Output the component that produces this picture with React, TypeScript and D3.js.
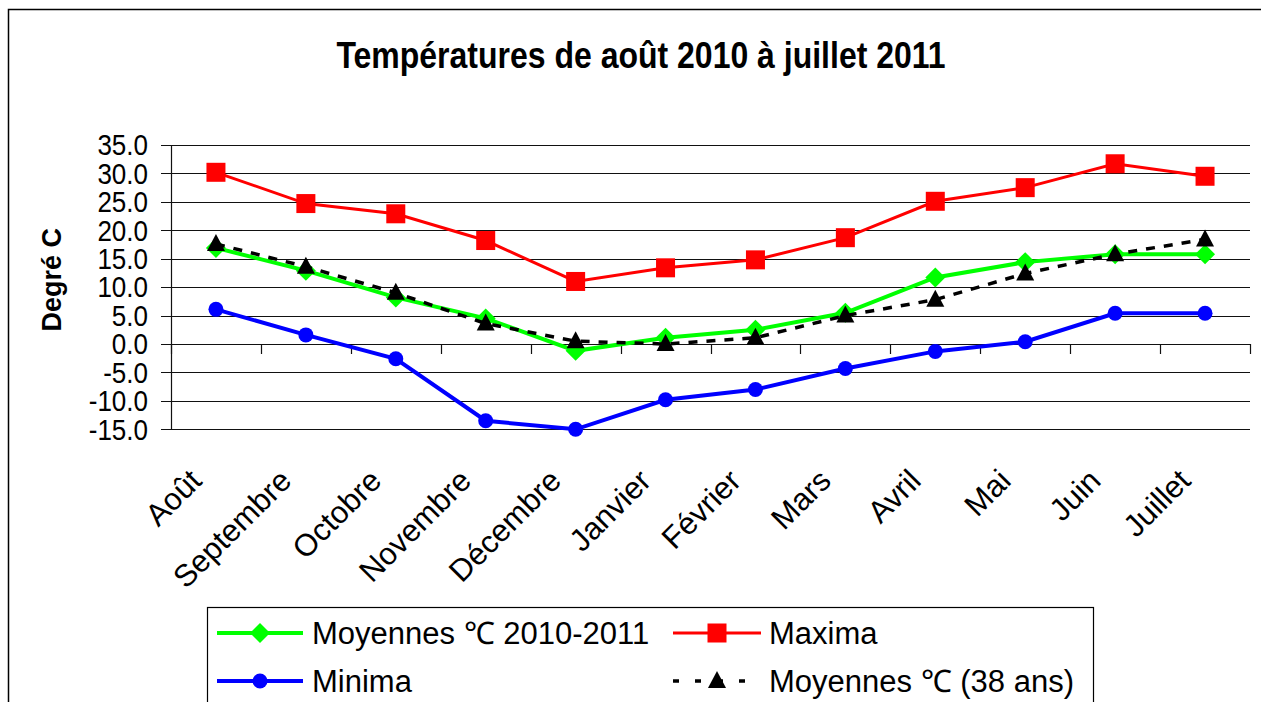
import React, { useEffect, useRef } from 'react';
import * as d3 from 'd3';

const months = ['Août', 'Septembre', 'Octobre', 'Novembre', 'Décembre', 'Janvier', 'Février', 'Mars', 'Avril', 'Mai', 'Juin', 'Juillet'];
const moyennes = [16.9, 12.9, 8.2, 4.5, -1.2, 1.1, 2.5, 5.5, 11.7, 14.4, 15.8, 15.8];
const maxima = [30.2, 24.7, 22.9, 18.2, 11.0, 13.4, 14.8, 18.7, 25.1, 27.5, 31.7, 29.5];
const minima = [6.1, 1.6, -2.6, -13.5, -15.0, -9.8, -8.0, -4.3, -1.3, 0.4, 5.4, 5.4];
const moyennes38 = [17.6, 13.6, 9.0, 3.6, 0.5, 0.0, 1.1, 5.0, 7.8, 12.4, 15.8, 18.4];
const yTicks = [-15, -10, -5, 0, 5, 10, 15, 20, 25, 30, 35];

const W = 1261;
const H = 702;
const FONT = '"Liberation Sans", Arial, sans-serif';

type Series = { name: string; values: number[]; color: string; width: number; dash?: string; marker: 'diamond' | 'square' | 'circle' | 'triangle' };

const series: Series[] = [
  { name: 'Maxima', values: maxima, color: '#ff0000', width: 3, marker: 'square' },
  { name: 'Minima', values: minima, color: '#0000ff', width: 4, marker: 'circle' },
  { name: 'Moyennes \u2103 2010-2011', values: moyennes, color: '#00ff00', width: 4, marker: 'diamond' },
  { name: 'Moyennes \u2103 (38 ans)', values: moyennes38, color: '#000000', width: 3.5, dash: '9,9', marker: 'triangle' },
];

// legend order / placement (col, row)
const legendOrder = [
  { s: 2, col: 0, row: 0 },
  { s: 0, col: 1, row: 0 },
  { s: 1, col: 0, row: 1 },
  { s: 3, col: 1, row: 1 },
];

function drawMarker(g: d3.Selection<SVGGElement, unknown, null, undefined>, kind: string, cx: number, cy: number, color: string) {
  if (kind === 'square') {
    g.append('rect').attr('x', cx - 9.5).attr('y', cy - 9.5).attr('width', 19).attr('height', 19).attr('fill', color);
  } else if (kind === 'circle') {
    g.append('circle').attr('cx', cx).attr('cy', cy).attr('r', 7.5).attr('fill', color);
  } else if (kind === 'diamond') {
    g.append('path').attr('d', `M${cx},${cy - 10}L${cx + 10},${cy}L${cx},${cy + 10}L${cx - 10},${cy}Z`).attr('fill', color);
  } else {
    g.append('path').attr('d', `M${cx},${cy - 10}L${cx + 9},${cy + 7}L${cx - 9},${cy + 7}Z`).attr('fill', color);
  }
}

export default function App() {
  const ref = useRef<SVGSVGElement | null>(null);

  useEffect(() => {
    if (!ref.current) return;
    const svg = d3.select(ref.current);
    svg.selectAll('*').remove();

    const plotLeft = 171;
    const plotRight = 1250;
    const x = d3.scaleBand<string>().domain(months).range([plotLeft, plotRight]);
    const y = d3.scaleLinear().domain([-15, 35]).range([429.3, 145]);

    const root = svg.append('g');

    // outer frame (only top and left visible)
    root.append('rect')
      .attr('x', 8.5).attr('y', 9.5).attr('width', W + 20).attr('height', H + 20)
      .attr('fill', 'none').attr('stroke', '#000').attr('stroke-width', 1.5);

    // title
    root.append('text')
      .attr('transform', 'translate(641,68) scale(1,1.15)')
      .attr('text-anchor', 'middle')
      .style('font-family', FONT).style('font-weight', 'bold').style('font-size', '32px')
      .text('Températures de août 2010 à juillet 2011');

    // gridlines
    root.append('g').selectAll('line').data(yTicks).join('line')
      .attr('x1', plotLeft - 10).attr('x2', plotRight)
      .attr('y1', d => Math.round(y(d)) + 0.5).attr('y2', d => Math.round(y(d)) + 0.5)
      .attr('stroke', '#111').attr('stroke-width', 1.2);

    // y axis line
    root.append('line')
      .attr('x1', plotLeft + 0.5).attr('x2', plotLeft + 0.5)
      .attr('y1', y(35)).attr('y2', y(-15))
      .attr('stroke', '#111').attr('stroke-width', 1.2);

    // category ticks on zero line
    const bounds = d3.range(months.length + 1).map(i => plotLeft + i * x.bandwidth());
    root.append('g').selectAll('line').data(bounds).join('line')
      .attr('x1', d => Math.round(d) + 0.5).attr('x2', d => Math.round(d) + 0.5)
      .attr('y1', y(0)).attr('y2', y(0) + 10)
      .attr('stroke', '#111').attr('stroke-width', 1.2);

    // y tick labels
    root.append('g').selectAll('text').data(yTicks).join('text')
      .attr('transform', d => `translate(148,${y(d)}) scale(1,1.1)`)
      .attr('dy', '0.36em')
      .attr('text-anchor', 'end')
      .style('font-family', FONT).style('font-size', '26px')
      .text(d => d.toFixed(1));

    // y axis title
    root.append('text')
      .attr('transform', `translate(61,${y(11.3)}) rotate(-90)`)
      .attr('text-anchor', 'middle')
      .style('font-family', FONT).style('font-weight', 'bold').style('font-size', '27px')
      .text('Degré C');

    // x labels rotated
    root.append('g').selectAll('text').data(months).join('text')
      .attr('transform', d => `translate(${x(d)! + x.bandwidth() / 2 - 28},${y(-15) + 38}) rotate(-45)`)
      .attr('text-anchor', 'end')
      .attr('dy', '0.7em')
      .style('font-family', FONT).style('font-size', '31px')
      .text(d => d);

    // series
    const line = d3.line<number>()
      .x((_, i) => x(months[i])! + x.bandwidth() / 2)
      .y(d => y(d));

    [2, 0, 1, 3].forEach(si => {
      const s = series[si];
      const g = root.append('g');
      g.append('path')
        .attr('d', line(s.values))
        .attr('fill', 'none')
        .attr('stroke', s.color)
        .attr('stroke-width', s.width)
        .attr('stroke-dasharray', s.dash ?? null);
      s.values.forEach((v, i) => drawMarker(g, s.marker, x(months[i])! + x.bandwidth() / 2, y(v), s.color));
    });

    // legend
    const lg = root.append('g');
    lg.append('rect')
      .attr('x', 207.5).attr('y', 607.5).attr('width', 886).attr('height', 120)
      .attr('fill', '#fff').attr('stroke', '#000').attr('stroke-width', 1.2);
    const cols = [
      { x0: 217, len: 86, tx: 312 },
      { x0: 673, len: 88, tx: 769 },
    ];
    const rowY = [633, 681];
    legendOrder.forEach(({ s: si, col, row }) => {
      const s = series[si];
      const c = cols[col];
      const cy = rowY[row];
      const g = lg.append('g');
      g.append('line')
        .attr('x1', c.x0).attr('x2', c.x0 + c.len).attr('y1', cy).attr('y2', cy)
        .attr('stroke', s.color).attr('stroke-width', s.width)
        .attr('stroke-dasharray', s.dash ? '6,16' : null);
      drawMarker(g, s.marker, c.x0 + c.len / 2, cy, s.color);
      g.append('text')
        .attr('x', c.tx).attr('y', cy)
        .attr('dy', '0.36em')
        .style('font-family', FONT).style('font-size', '31px')
        .text(s.name);
    });
  }, []);

  return (
    <svg
      ref={ref}
      width={W}
      height={H}
      style={{ position: 'absolute', left: 0, top: 0, background: '#fff' }}
    />
  );
}
